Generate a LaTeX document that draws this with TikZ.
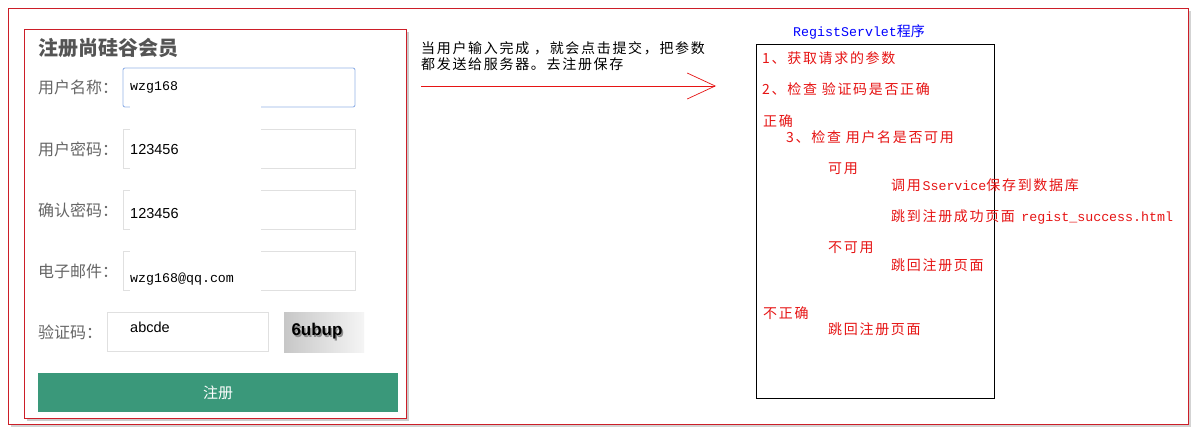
\documentclass[tikz,border=0pt]{standalone}
\usepackage{fontspec}
\setmainfont{Noto Sans CJK SC}
\setmonofont{Liberation Mono}
\newfontfamily\notefont[LetterSpace=12]{Noto Sans CJK SC}
\newfontfamily\inputfont{Liberation Sans}
\usetikzlibrary{arrows.meta,shadows}
\definecolor{frame}{RGB}{204,30,40}
\definecolor{labelgray}{RGB}{102,102,102}
\definecolor{btngreen}{RGB}{58,152,122}
\definecolor{noteRed}{RGB}{230,20,20}

\begin{document}
\begin{tikzpicture}[x=1pt,y=-1pt,
                    label/.style={anchor=west,inner sep=0pt,text=labelgray,font=\fontsize{16}{18}\selectfont},
                    field/.style={draw=black!12,line width=0.6pt},
                    value/.style={anchor=west,inner sep=0pt,font=\inputfont\fontsize{14.5}{17}\selectfont},
                    note/.style={anchor=west,inner sep=0pt,text=noteRed,font=\notefont\fontsize{14}{16}\selectfont}]
                    \useasboundingbox (0,0) rectangle (1196,434);
                    % outer frame and form frame
                    \draw[frame,line width=0.8pt,fill=white,drop shadow={shadow xshift=2.5pt,shadow yshift=-2.5pt,opacity=0.35}] (8,8) rectangle (1188,424);
                    \draw[frame,line width=0.8pt,fill=white,drop shadow={shadow xshift=2.5pt,shadow yshift=-2.5pt,opacity=0.4}] (24,29) rectangle (406,418);
                    \node (title) at (38,48) [anchor=west,inner sep=0pt,text=black!67,font=\bfseries\fontsize{20}{22}\selectfont] {注册尚硅谷会员};
                    % input fields
                    \draw[draw={rgb,255:red,150;green,180;blue,232},line width=0.9pt,rounded corners=2pt] (123,68) rectangle (355,107);
                    \draw[field] (123,129) rectangle (355,168);
                    \draw[field] (123,190) rectangle (355,229);
                    \draw[field] (123,251) rectangle (355,290);
                    \draw[field] (107,312) rectangle (268,351);
                    \fill[white] (130,100) rectangle (261,112);
                    \fill[white] (130,124) rectangle (261,172);
                    \fill[white] (130,186) rectangle (261,233);
                    \fill[white] (130,247) rectangle (261,294);
                    \node (lname) at (38,87) [label] {用户名称：};
                    \node (lpwd) at (38,149) [label] {用户密码：};
                    \node (lrepwd) at (38,210) [label] {确认密码：};
                    \node (lemail) at (38,271) [label] {电子邮件：};
                    \node (lcode) at (38,332) [label] {验证码：};
                    \node (vname) at (130,87) [value,font=\ttfamily\fontsize{13.3}{16}\selectfont] {wzg168};
                    \node (vpwd) at (130,150) [value] {123456};
                    \node (vrepwd) at (130,214) [value] {123456};
                    \node (vemail) at (130,279) [value,font=\ttfamily\fontsize{13.3}{16}\selectfont] {wzg168@qq.com};
                    \node (vcode) at (130,327) [value] {abcde};
                    % captcha picture
                    \shade[left color=black!22,right color=black!4] (284,312) rectangle (364,352);
                    \node (captchaShade) at (318.5,333) [inner sep=0pt,text=black!45,font=\inputfont\bfseries\fontsize{17}{20}\selectfont] {6ubup};
                    \node (captcha) at (317,331) [inner sep=0pt,font=\inputfont\bfseries\fontsize{17}{20}\selectfont] {6ubup};
                    % submit button
                    \fill[btngreen] (38,373) rectangle (398,412);
                    \node (submit) at (218,393) [text=white,font=\fontsize{15}{17}\selectfont] {注册};
                    % request to the server
                    \node (send) at (421,56) [anchor=west,inner sep=0pt,align=left,font=\notefont\fontsize{14}{16}\selectfont] {当用户输入完成 ，就会点击提交，把参数\\都发送给服务器。去注册保存};
                    \coordinate (sendL) at (421,86);
                    \coordinate (sendR) at (716,86);
                    \draw[noteRed,line width=0.7pt,-{Straight Barb[length=28pt,width=26pt,line width=0.7pt]}] (sendL) -- (sendR);
                    % servlet
                    \node (servlet) at (793,32) [anchor=west,inner sep=0pt,text=blue,font=\fontsize{14}{16}\selectfont] {\texttt{\fontsize{13.3}{16}\selectfont RegistServlet}程序};
                    \draw[line width=0.8pt] (756,44) rectangle (994,398);
                    \node (s1) at (762,58) [note] {1、获取请求的参数};
                    \node (s2) at (762,89) [note] {2、检查 验证码是否正确};
                    \node (ok) at (763,121) [note] {正确};
                    \node (s3) at (786,137) [note] {3、检查 用户名是否可用};
                    \node (free) at (828,169) [note] {可用};
                    \node (save) at (891,185) [note] {调用\texttt{\fontsize{13.3}{16}\selectfont Sservice}保存到数据库};
                    \node (success) at (891,217) [note] {跳到注册成功页面 \texttt{\fontsize{13.3}{16}\selectfont regist\_success.html}};
                    \node (taken) at (828,248) [note] {不可用};
                    \node (back1) at (891,265) [note] {跳回注册页面};
                    \node (wrong) at (763,313) [note] {不正确};
                    \node (back2) at (828,329) [note] {跳回注册页面};
                \end{tikzpicture}
\end{document}
